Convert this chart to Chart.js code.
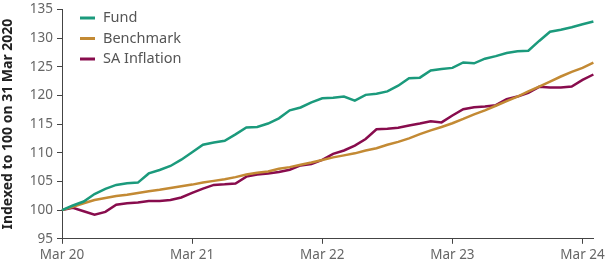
<!DOCTYPE html>
<html>
<head>
<meta charset="utf-8">
<script src="https://cdn.jsdelivr.net/npm/chart.js@4"></script>
<style>
  html, body { margin: 0; padding: 0; background: #fff; }
  #wrap { width: 608px; height: 266px; }
</style>
</head>
<body>
<div id="wrap"><canvas id="chart"></canvas></div>
<script>
const months = [
  "Mar 20", "Apr 20", "May 20", "Jun 20", "Jul 20", "Aug 20", "Sep 20", "Oct 20", "Nov 20", "Dec 20", "Jan 21", "Feb 21",
  "Mar 21", "Apr 21", "May 21", "Jun 21", "Jul 21", "Aug 21", "Sep 21", "Oct 21", "Nov 21", "Dec 21", "Jan 22", "Feb 22",
  "Mar 22", "Apr 22", "May 22", "Jun 22", "Jul 22", "Aug 22", "Sep 22", "Oct 22", "Nov 22", "Dec 22", "Jan 23", "Feb 23",
  "Mar 23", "Apr 23", "May 23", "Jun 23", "Jul 23", "Aug 23", "Sep 23", "Oct 23", "Nov 23", "Dec 23", "Jan 24", "Feb 24",
  "Mar 24", "Apr 24"
];

const tickLabels = ["Mar 20", "Mar 21", "Mar 22", "Mar 23", "Mar 24"];

const fund = [
  100, 100.8, 101.5, 102.8, 103.7, 104.4, 104.7, 104.8, 106.4, 107.0, 107.7, 108.8,
  110.1, 111.4, 111.8, 112.1, 113.2, 114.4, 114.5, 115.1, 116.0, 117.4, 117.9, 118.8,
  119.5, 119.6, 119.8, 119.1, 120.1, 120.3, 120.7, 121.7, 123.0, 123.1, 124.35, 124.6,
  124.8, 125.75, 125.6, 126.4, 126.85, 127.4, 127.7, 127.8, 129.5, 131.1, 131.45, 131.9,
  132.4, 132.9
];

const benchmark = [
  100, 100.6, 101.2, 101.75, 102.1, 102.45, 102.7, 103.0, 103.3, 103.55, 103.85, 104.15,
  104.45, 104.8, 105.1, 105.4, 105.75, 106.2, 106.5, 106.75, 107.2, 107.5, 107.9, 108.3,
  108.75, 109.2, 109.55, 109.9, 110.4, 110.8, 111.4, 111.9, 112.5, 113.25, 113.9, 114.5,
  115.15, 115.9, 116.7, 117.4, 118.2, 119.0, 119.8, 120.7, 121.55, 122.4, 123.3, 124.1,
  124.8, 125.7
];

const inflation = [
  100, 100.4, 99.8, 99.2, 99.7, 100.95, 101.2, 101.35, 101.6, 101.6, 101.75, 102.2,
  103.0, 103.75, 104.4, 104.5, 104.65, 105.85, 106.2, 106.4, 106.65, 107.05, 107.8, 108.05,
  108.75, 109.8, 110.4, 111.25, 112.4, 114.1, 114.2, 114.35, 114.75, 115.1, 115.5, 115.3,
  116.5, 117.6, 117.95, 118.05, 118.3, 119.35, 119.8, 120.45, 121.5, 121.4, 121.4, 121.55,
  122.7, 123.65
];

const seriesNames = ["Fund", "Benchmark", "SA Inflation"];
const seriesColors = ["#1b9a7c", "#c38a34", "#880c4d"];

// legend drawn inside the plot, top left
const insideLegend = {
  id: "insideLegend",
  afterDraw(chart) {
    const ctx = chart.ctx;
    const left = chart.chartArea.left;
    ctx.save();
    ctx.font = "14.5px 'Noto Sans', sans-serif";
    ctx.textBaseline = "middle";
    chart.data.datasets.forEach(function (ds, i) {
      const y = 18 + i * 20.5;
      ctx.strokeStyle = ds.borderColor;
      ctx.lineWidth = 3;
      ctx.beginPath();
      ctx.moveTo(left + 18, y);
      ctx.lineTo(left + 33, y);
      ctx.stroke();
      ctx.fillStyle = "#555";
      ctx.fillText(ds.label, left + 41, y);
    });
    ctx.restore();
  }
};

const datasets = [fund, benchmark, inflation].map(function (values, i) {
  return {
    label: seriesNames[i],
    data: values,
    borderColor: seriesColors[i],
    backgroundColor: seriesColors[i],
    borderWidth: 2.5,
    pointRadius: 0,
    tension: 0
  };
});

new Chart(document.getElementById("chart"), {
  type: "line",
  data: { labels: months, datasets: datasets },
  plugins: [insideLegend],
  options: {
    responsive: true,
    maintainAspectRatio: false,
    animation: false,
    layout: { padding: { top: 0, right: 14, left: 0, bottom: 0 } },
    plugins: {
      legend: { display: false },
      tooltip: { enabled: false }
    },
    scales: {
      x: {
        offset: false,
        grid: { drawOnChartArea: false, drawTicks: true, tickLength: 5, color: "#444" },
        border: { display: true, color: "#444", width: 1 },
        ticks: {
          autoSkip: false,
          maxRotation: 0,
          color: "#666",
          font: { family: "'Noto Sans', sans-serif", size: 13.5 },
          padding: 3,
          callback: function (value, index) {
            if (index % 12 !== 0) return null;
            return tickLabels[index / 12];
          }
        }
      },
      y: {
        min: 95,
        max: 135,
        grid: { drawOnChartArea: false, drawTicks: true, tickLength: 5, color: "#444" },
        border: { display: true, color: "#444", width: 1 },
        ticks: {
          stepSize: 5,
          color: "#666",
          font: { family: "'Noto Sans', sans-serif", size: 13.5, lineHeight: 0.8 },
          padding: 4
        },
        title: {
          display: true,
          text: "Indexed to 100 on 31 Mar 2020",
          color: "#222",
          font: { family: "'Noto Sans', sans-serif", size: 14, weight: "bold" },
          padding: { top: 0, bottom: 4 }
        },
        afterFit: function (scale) { scale.width = 62; }
      }
    }
  }
});
</script>
</body>
</html>
